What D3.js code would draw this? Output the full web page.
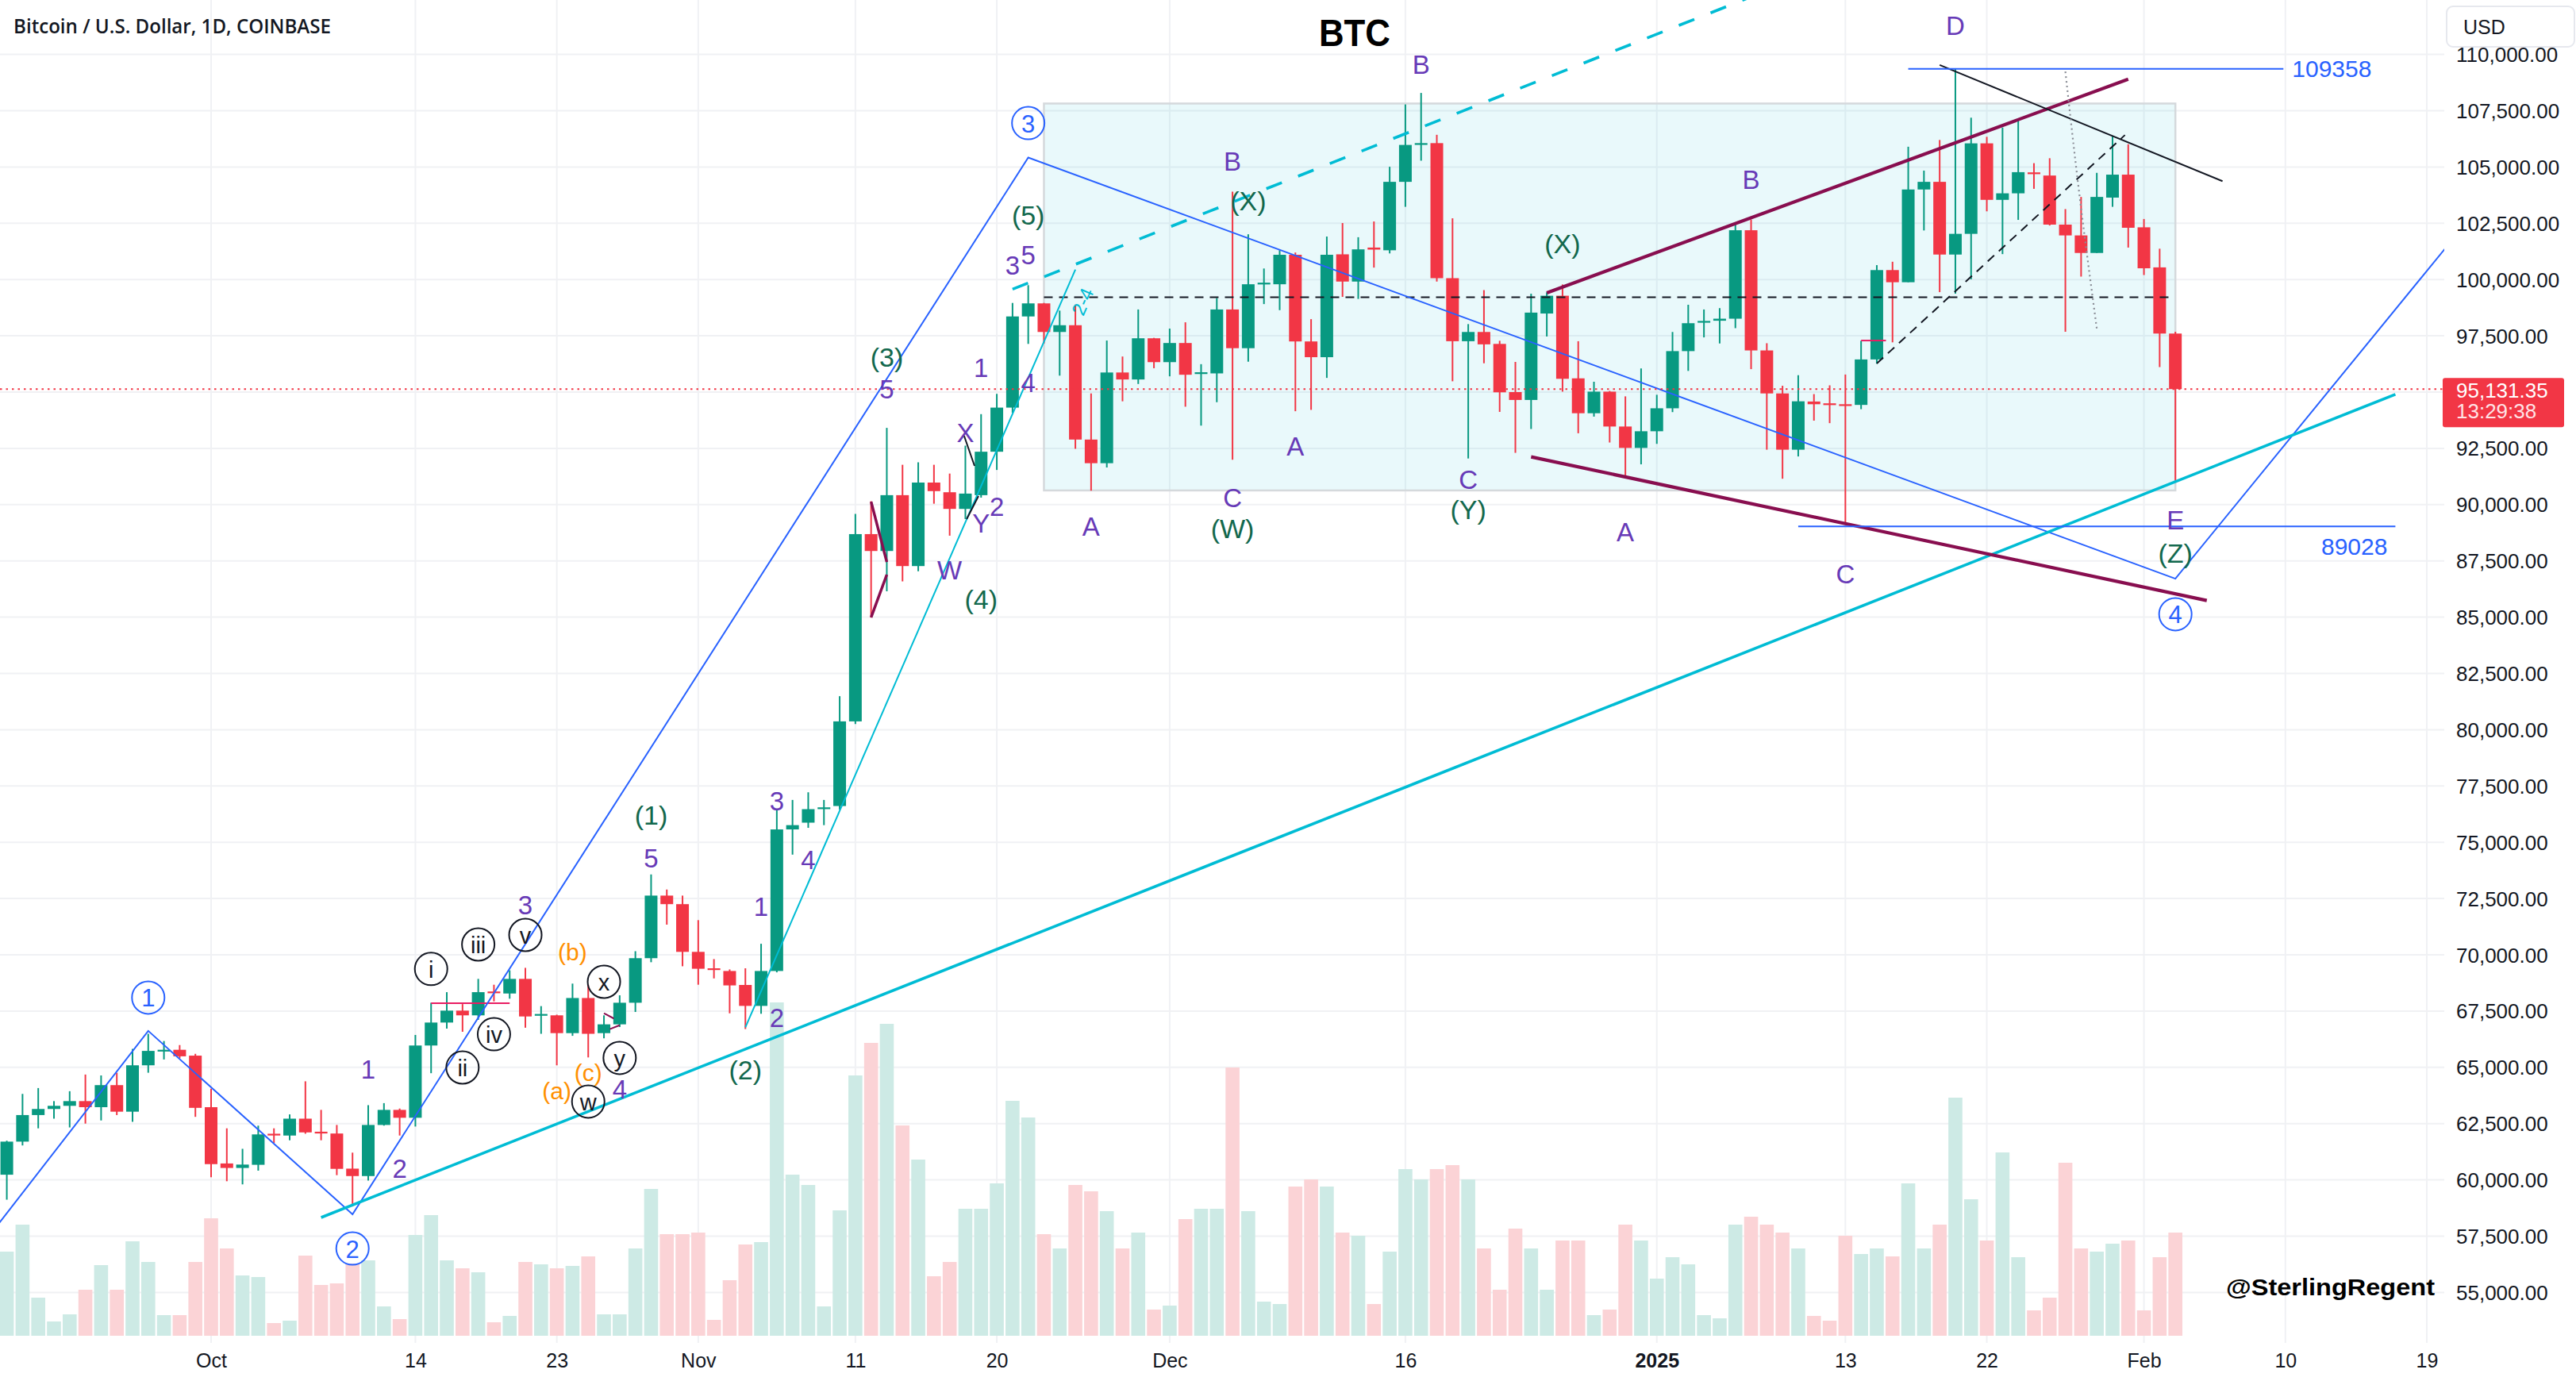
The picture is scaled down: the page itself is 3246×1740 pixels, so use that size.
<!DOCTYPE html>
<html><head><meta charset="utf-8">
<script src="https://cdn.jsdelivr.net/npm/d3@7"></script>
<style>html,body{margin:0;padding:0;background:#fff;}svg{display:block;}</style>
</head><body>
<svg id="c" width="3246" height="1740"></svg>
<script>
// ---------- DATA ----------
const firstDay = "2024-09-18"; // consecutive daily candles from this date
const opens  = [60230,61700,62880,63150,63290,63500,63230,64210,63030,65090,65730,65780,65520,
 63230,60730,60530,60670,62050,61970,62720,62140,62060,60500,60170,62440,63110,62760,65970,66990,67520,67310,68370,68280,68930,67340,67310,66520,68080,66520,66910,67870,69850,72630,72250,
 70130,69400,69280,68660,67730,69280,75570,75870,76500,76610,80370,88690,87940,90420,87270,90980,90550,89810,90420,92350,94310,98360,98940,97670,97970,92890,91840,95870,95560,97390,
 96330,97180,95850,95830,98670,96950,99800,99790,101100,97250,96550,101120,99910,101420,101300,104340,106050,106060,100060,97260,97670,97140,95000,94650,98490,99280,95610,94060,95020,93470,92520,
 93260,94280,96820,98150,98170,98260,102190,96850,94940,92440,94580,94500,94460,94430,96450,100420,99880,104000,104340,101110,102030,106050,103540,103830,104760,104620,102440,101960,101180,103640,104660,
 102320,100540,97600];
const highs  = [61740,63820,64080,63500,63940,64680,64640,64760,65820,66490,66170,65990,65600,
 64050,62290,61380,62410,62290,62910,64380,63110,62440,61210,63320,63410,63170,66440,67870,68340,67810,68930,68670,69310,69420,67720,67340,68720,68670,67310,68200,70160,73570,72900,72630,
 71540,69810,69350,69400,70490,76430,76880,77220,76880,81490,89590,90150,93410,91770,91880,91770,91380,92620,94020,94920,98960,99750,98960,98620,98890,94940,97290,96580,98670,97410,
 97820,98100,96240,99180,103900,102010,100490,101300,101200,98240,101910,102510,101880,102580,105010,107780,108290,106430,102720,98020,99530,97280,96340,99370,99430,99780,97260,95460,95050,94810,96050,
 94880,97670,98880,98670,98730,102450,102660,97170,95280,95750,94910,95300,95780,97280,100640,100790,105900,104840,106200,109358,107190,106340,106750,107120,105170,105390,103130,103670,104740,106390,106010,
 102690,101370,97680];
const lows   = [59120,61530,62290,62720,62330,62500,62640,62880,62580,64760,65350,65400,62800,
 60120,59940,59800,60410,61640,61760,62050,61760,60210,58820,59970,62410,61970,62370,64740,66720,66580,67110,67930,68050,66760,66490,65090,66400,65440,66290,66790,67460,69670,71340,69490,
 68670,68950,67400,66700,67380,69220,74450,75640,75760,76450,80250,84980,86150,86590,87040,90040,88620,89360,90310,91540,94080,97140,97160,95730,92480,90620,91650,94590,95360,96060,
 95700,94350,93510,94550,91990,96350,98910,98640,94150,94210,95630,99230,99140,100530,101160,103230,105280,99910,95480,92050,96280,94120,92300,93360,97470,95020,93170,93910,92760,91230,91790,
 92700,94110,95940,97430,97160,97840,96020,92440,91150,92140,93730,93620,89100,94240,96260,97210,99880,102180,99440,99370,100010,103030,101130,102650,104030,102400,97680,100130,101180,103230,101420,
 100200,96110,91070];
const closes = [61700,62880,63150,63290,63500,63230,64210,63030,65090,65730,65780,65490,63200,
 60700,60530,60680,62020,62020,62720,62110,62080,60490,60170,62440,63110,62760,65970,66990,67520,67310,68340,68340,68930,67260,67370,66520,68080,66490,66910,67870,69850,72630,72250,70130,
 69380,69360,68640,67730,69280,75570,75760,76470,76550,80370,88690,87940,90420,87270,90980,90600,89810,90490,92350,94310,98360,98940,97670,97970,92890,91840,95870,95560,97390,96330,
 97180,95770,95880,98670,96950,99790,99860,101100,97250,96550,101100,99910,101340,101330,104340,105980,106060,100060,97260,97670,97120,94990,94650,98530,99280,95590,94060,95020,93470,92520,93260,
 94280,96820,98060,98160,98260,102190,96850,94940,92440,94590,94460,94440,94430,96450,100420,99880,104000,104340,101110,102030,106050,103540,103830,104770,104700,102440,101960,101180,103670,104660,102300,
 100500,97600,95131.35];
const volumes = [10.6,14.0,4.8,1.8,2.7,5.8,8.9,5.8,11.9,9.3,2.6,2.6,9.3,
 14.8,11.0,7.6,7.4,1.6,1.9,10.1,6.4,6.6,9.1,9.5,3.7,2.1,12.7,15.2,9.5,8.5,8.0,1.7,2.5,9.3,9.0,8.5,8.8,10.0,2.7,2.7,11.0,18.5,12.8,12.8,
 13.0,2.0,7.0,11.5,11.8,42.0,20.3,19.0,3.7,15.8,32.8,36.9,39.3,26.5,22.2,7.5,9.3,16.0,16.0,19.2,29.6,27.5,12.8,11.0,19.0,18.2,15.7,11.0,13.0,3.3,
 3.8,14.7,16.0,16.0,33.8,15.7,4.3,4.0,18.8,19.7,18.8,13.0,12.6,4.0,10.6,21.0,19.7,21.0,21.5,19.7,11.0,5.8,13.5,11.0,5.8,12.0,12.0,2.6,3.3,14.0,12.0,
 7.2,9.9,9.0,2.6,2.2,14.0,15.0,14.0,13.0,11.0,2.5,1.9,12.6,10.3,11.0,10.0,19.2,11.0,14.0,30.0,17.2,12.0,23.1,9.9,3.2,4.8,21.8,11.0,10.6,11.6,12.0,
 3.2,9.9,13.0];

const timeTickDates  = ["2024-10-01","2024-10-14","2024-10-23","2024-11-01","2024-11-11","2024-11-20","2024-12-01","2024-12-16","2025-01-01","2025-01-13","2025-01-22","2025-02-01","2025-02-10","2025-02-19"];
const timeTickLabels = ["Oct","14","23","Nov","11","20","Dec","16","2025","13","22","Feb","10","19"];
const priceTicks = [55000,57500,60000,62500,65000,67500,70000,72500,75000,77500,80000,82500,85000,87500,90000,92500,95000,97500,100000,102500,105000,107500,110000];
const lastPrice = 95131.35;
const countdown = "13:29:38";

// wave labels: [text, date, price, kind]  p=purple g=green o=orange
const waveLabels = [
 ["1","2024-10-11",64900,"p"],["2","2024-10-13",60480,"p"],["3","2024-10-21",72220,"p"],["4","2024-10-27",64040,"p"],
 ["5","2024-10-29",74270,"p"],["1","2024-11-05",72150,"p"],["2","2024-11-06",67210,"p"],["3","2024-11-06",76840,"p"],
 ["4","2024-11-08",74230,"p"],["5","2024-11-13",95140,"p"],["X","2024-11-18",93180,"p"],["W","2024-11-17",87100,"p"],
 ["Y","2024-11-19",89150,"p"],["2","2024-11-20",89920,"p"],["1","2024-11-19",96090,"p"],["4","2024-11-22",95420,"p"],
 ["3","2024-11-21",100610,"p"],["5","2024-11-22",101070,"p"],["A","2024-11-26",89020,"p"],["B","2024-12-05",105230,"p"],
 ["C","2024-12-05",90310,"p"],["A","2024-12-09",92600,"p"],["B","2024-12-17",109530,"p"],["C","2024-12-20",91090,"p"],
 ["A","2024-12-30",88790,"p"],["B","2025-01-07",104420,"p"],["C","2025-01-13",86890,"p"],["D","2025-01-20",111260,"p"],
 ["E","2025-02-03",89290,"p"],
 ["(1)","2024-10-29",76210,"g"],["(2)","2024-11-04",64890,"g"],["(3)","2024-11-13",96550,"g"],["(4)","2024-11-19",85800,"g"],
 ["(5)","2024-11-22",102860,"g"],["(X)","2024-12-06",103500,"g"],["(W)","2024-12-05",88950,"g"],["(X)","2024-12-26",101590,"g"],
 ["(Y)","2024-12-20",89780,"g"],["(Z)","2025-02-03",87840,"g"],
 ["(a)","2024-10-23",63970,"o"],["(b)","2024-10-24",70110,"o"],["(c)","2024-10-25",64750,"o"]
];
// circled labels: [text, date, price, kind] b=blue k=black
const circledLabels = [
 ["1","2024-09-27",68100,"b"],["2","2024-10-10",56950,"b"],["3","2024-11-22",106950,"b"],["4","2025-02-03",85130,"b"],
 ["i","2024-10-15",69370,"k"],["ii","2024-10-17",64990,"k"],["iii","2024-10-18",70460,"k"],["iv","2024-10-19",66470,"k"],
 ["v","2024-10-21",70880,"k"],["w","2024-10-25",63480,"k"],["x","2024-10-26",68800,"k"],["y","2024-10-27",65420,"k"]
];
// drawings (date, price)
const blueWave     = [["2024-09-17",57620],["2024-09-27",66620],["2024-10-10",58470],["2024-11-22",105420],["2025-02-03",86710],["2025-02-21",102090]];
const cyanTrend    = [["2024-10-08",58330],["2025-02-17",94900]];
const cyanDashed   = [["2024-11-21",99570],["2025-01-07",112560]];
const cyanThin     = [["2024-11-04",66780],["2024-11-25",100440]];
const maroonUpper  = [["2024-12-25",99410],["2025-01-31",108900]];
const maroonLower  = [["2024-12-24",92120],["2025-02-05",85740]];
const maroonSmallA = [["2024-11-12",90130],["2024-11-13",87450]];
const maroonSmallB = [["2024-11-12",84990],["2024-11-13",86890]];
const maroonTinyA  = [["2024-10-26",67400],["2024-10-26T15:00",67170]];
const maroonTinyB  = [["2024-10-26T09:00",66700],["2024-10-27",66870]];
const blackLine    = [["2025-01-19",109530],["2025-02-06",104370]];
const blackDashDiag= [["2025-01-15",96270],["2025-01-30T19:00",106420]];
const blackDashFlat= [["2024-11-23",99210],["2025-02-02T15:00",99210]];
const blackSmallX  = [["2024-11-17T22:00",93060],["2024-11-18T14:00",91720]];
const blackSmallY  = [["2024-11-18T02:00",89360],["2024-11-18T20:00",90380]];
const grayDotted   = [["2025-01-27",109240],["2025-01-27T22:00",103640],["2025-01-29",97820]];
const pinkSeg1     = [["2024-10-15",67850],["2024-10-20",67850]];
const pinkSeg2     = [["2025-01-14",97290],["2025-01-15T14:00",97290]];
const levelValues  = [109358, 89028];
const levelFrom    = ["2025-01-17","2025-01-10"];
const levelTo      = ["2025-02-09T21:00","2025-02-17"];
const boxFrom = "2024-11-23", boxTo = "2025-02-03", boxTop = 107820, boxBottom = 90630;
const label24 = ["2-4","2024-11-25T11:00",99020];

// ---------- SETUP ----------
const pd = s => new Date(s.length > 10 ? s + ":00Z" : s + "T00:00:00Z");
const day0 = pd(firstDay);
const dates = closes.map((_, i) => new Date(day0.getTime() + i * 86400000));
const candles = dates.map((d, i) => ({d, o: opens[i], h: highs[i], l: lows[i], c: closes[i], v: volumes[i]}));

const W = 3246, H = 1740, paneR = 3080, paneB = 1692;
const x = d3.scaleUtc().domain([pd("2024-10-01"), pd("2025-02-19")]).range([266, 3058]);
const y = d3.scaleLinear().domain([55000, 110000]).range([1628.4, 68.6]);
const yv = d3.scaleLinear().domain([0, 45]).range([1683, 1233]);

const UP = "#089981", DN = "#f23645";
const PURPLE = "#673ab7", GREEN = "#12684d", ORANGE = "#ff8f00", BLUE = "#2962ff", CYAN = "#00bcd4", MAROON = "#880e4f";
const FONT = "'Liberation Sans', Arial, sans-serif";

const svg = d3.select("#c");
svg.append("rect").attr("width", W).attr("height", H).attr("fill", "#fff");
svg.append("defs").append("clipPath").attr("id", "pane").append("rect").attr("x", 0).attr("y", 0).attr("width", paneR).attr("height", paneB);
const pane = svg.append("g").attr("clip-path", "url(#pane)");

// grid
pane.append("g").selectAll("line").data(priceTicks.concat([112500])).join("line")
  .attr("x1", 0).attr("x2", paneR).attr("y1", d => y(d)).attr("y2", d => y(d))
  .attr("stroke", "#f0f1f4").attr("stroke-width", 2);
pane.append("g").selectAll("line").data(timeTickDates).join("line")
  .attr("x1", d => x(pd(d))).attr("x2", d => x(pd(d))).attr("y1", 0).attr("y2", paneB)
  .attr("stroke", "#f0f1f4").attr("stroke-width", 2);

// box
pane.append("rect")
  .attr("x", x(pd(boxFrom))).attr("y", y(boxTop))
  .attr("width", x(pd(boxTo)) - x(pd(boxFrom))).attr("height", y(boxBottom) - y(boxTop))
  .attr("fill", "rgba(0,188,212,0.085)").attr("stroke", "#d5d9dc").attr("stroke-width", 2.5);

// volume
pane.append("g").selectAll("rect").data(candles).join("rect")
  .attr("x", d => x(d.d) - 8.8).attr("width", 17.6)
  .attr("y", d => yv(d.v)).attr("height", d => yv(0) - yv(d.v))
  .attr("fill", d => d.c >= d.o ? "#cdeae5" : "#fbd3d6");

// candles
const cg = pane.append("g");
cg.selectAll("line").data(candles).join("line")
  .attr("x1", d => x(d.d)).attr("x2", d => x(d.d))
  .attr("y1", d => y(d.h)).attr("y2", d => y(d.l))
  .attr("stroke", d => d.c >= d.o ? UP : DN).attr("stroke-width", 2);
cg.selectAll("rect").data(candles).join("rect")
  .attr("x", d => x(d.d) - 8).attr("width", 16)
  .attr("y", d => y(Math.max(d.o, d.c)))
  .attr("height", d => Math.max(2.2, Math.abs(y(d.o) - y(d.c))))
  .attr("fill", d => d.c >= d.o ? UP : DN);

// drawings
const line = d3.line().x(p => x(pd(p[0]))).y(p => y(p[1]));
function drawLine(pts, color, w, dash, curve) {
  const l = curve ? d3.line().x(p => x(pd(p[0]))).y(p => y(p[1])).curve(d3.curveNatural) : line;
  pane.append("path").attr("d", l(pts)).attr("fill", "none").attr("stroke", color)
    .attr("stroke-width", w).attr("stroke-dasharray", dash || null).attr("stroke-linecap", "butt");
}
drawLine(pinkSeg1, "#e91e63", 2);
drawLine(pinkSeg2, "#e91e63", 2);
drawLine(blackDashFlat, "#131722", 2, "11,8");
drawLine(blueWave, BLUE, 2);
drawLine(cyanTrend, CYAN, 3.6);
drawLine(cyanThin, CYAN, 2);
drawLine(cyanDashed, CYAN, 3.6, "21,22");
drawLine(maroonUpper, MAROON, 4.2);
drawLine(maroonLower, MAROON, 4.2);
drawLine(maroonSmallA, MAROON, 3.5);
drawLine(maroonSmallB, MAROON, 3.5);
drawLine(maroonTinyA, MAROON, 2);
drawLine(maroonTinyB, MAROON, 2);
drawLine(blackLine, "#131722", 2);
drawLine(blackDashDiag, "#131722", 2, "11,8");
drawLine(blackSmallX, "#131722", 2);
drawLine(blackSmallY, "#131722", 2);
drawLine(grayDotted, "#8a8d96", 2.2, "2,4", true);

// horizontal levels
levelValues.forEach((v, i) => {
  drawLine([[levelFrom[i], v], [levelTo[i], v]], BLUE, 2);
});
pane.append("text").attr("x", x(pd(levelTo[0])) + 11).attr("y", y(levelValues[0]))
  .attr("dominant-baseline", "central").attr("font-family", FONT).attr("font-size", 30)
  .attr("fill", BLUE).text(String(levelValues[0]));
pane.append("text").attr("x", x(pd(levelTo[1])) - 10).attr("y", y(levelValues[1]) + 25)
  .attr("dominant-baseline", "central").attr("text-anchor", "end").attr("font-family", FONT).attr("font-size", 30)
  .attr("fill", BLUE).text(String(levelValues[1]));

// "2-4" label along thin cyan line
{
  const lx = x(pd(label24[1])), ly = y(label24[2]);
  pane.append("text").attr("transform", `translate(${lx},${ly}) rotate(-66.5)`)
    .attr("text-anchor", "middle").attr("dominant-baseline", "central")
    .attr("font-family", FONT).attr("font-size", 24).attr("fill", CYAN).text(label24[0]);
}

// current price dotted line
pane.append("line").attr("x1", 0).attr("x2", paneR).attr("y1", y(lastPrice)).attr("y2", y(lastPrice))
  .attr("stroke", DN).attr("stroke-width", 2).attr("stroke-dasharray", "2.5,5");

// wave labels
const colorOf = {p: PURPLE, g: GREEN, o: ORANGE};
const sizeOf = {p: 33, g: 34, o: 30};
pane.append("g").selectAll("text").data(waveLabels).join("text")
  .attr("x", d => x(pd(d[1]))).attr("y", d => y(d[2]))
  .attr("text-anchor", "middle").attr("dominant-baseline", "central")
  .attr("font-family", FONT).attr("font-size", d => sizeOf[d[3]])
  .attr("fill", d => colorOf[d[3]]).text(d => d[0]);

// circled labels
const circ = pane.append("g").selectAll("g").data(circledLabels).join("g")
  .attr("transform", d => `translate(${x(pd(d[1]))},${y(d[2])})`);
circ.append("circle").attr("r", 20.5).attr("fill", "none")
  .attr("stroke", d => d[3] === "b" ? BLUE : "#131722").attr("stroke-width", 2);
circ.append("text").attr("text-anchor", "middle").attr("dominant-baseline", "central").attr("y", 1)
  .attr("font-family", FONT).attr("font-size", d => d[3] === "b" ? 31 : 29)
  .attr("fill", d => d[3] === "b" ? BLUE : "#131722").text(d => d[0]);

// ---------- AXES ----------
const ax = svg.append("g").attr("transform", `translate(0,1714)`)
  .call(d3.axisBottom(x).tickValues(timeTickDates.map(pd)).tickFormat((d, i) => timeTickLabels[i]).tickSize(0).tickPadding(0));
ax.select(".domain").remove();
ax.selectAll("text").attr("font-family", FONT).attr("font-size", 25).attr("fill", "#131722")
  .attr("dy", null).attr("dominant-baseline", "central")
  .attr("font-weight", (d, i) => timeTickLabels[i] === "2025" ? "bold" : null);

const ay = svg.append("g").attr("transform", `translate(3095,0)`)
  .call(d3.axisRight(y).tickValues(priceTicks).tickFormat(d3.format(",.2f")).tickSize(0).tickPadding(0));
ay.select(".domain").remove();
ay.selectAll("text").attr("font-family", FONT).attr("font-size", 26).attr("fill", "#131722")
  .attr("dy", null).attr("dominant-baseline", "central");

// current price label
const lp = svg.append("g");
lp.append("rect").attr("x", 3078).attr("y", y(lastPrice) - 14).attr("width", 153).attr("height", 62).attr("rx", 3).attr("fill", DN);
lp.append("text").attr("x", 3095).attr("y", y(lastPrice) + 2).attr("dominant-baseline", "central")
  .attr("font-family", FONT).attr("font-size", 26).attr("fill", "#fff").text(d3.format(",.2f")(lastPrice));
lp.append("text").attr("x", 3095).attr("y", y(lastPrice) + 28).attr("dominant-baseline", "central")
  .attr("font-family", FONT).attr("font-size", 26).attr("fill", "#ffe3e5").text(countdown);

// USD box
svg.append("rect").attr("x", 3083).attr("y", 8).attr("width", 161).attr("height", 51).attr("rx", 8)
  .attr("fill", "#fff").attr("stroke", "#e6e8ee").attr("stroke-width", 2);
svg.append("text").attr("x", 3104).attr("y", 34).attr("dominant-baseline", "central")
  .attr("font-family", FONT).attr("font-size", 25).attr("fill", "#131722").text("USD");

// titles
svg.append("text").attr("x", 17).attr("y", 42).attr("font-family", "'Open Sans', sans-serif").attr("font-weight", 600)
  .attr("font-size", 26).attr("fill", "#131722").attr("textLength", 400).attr("lengthAdjust", "spacingAndGlyphs")
  .text("Bitcoin / U.S. Dollar, 1D, COINBASE");
svg.append("text").attr("x", 1707).attr("y", 58).attr("text-anchor", "middle").attr("font-family", FONT)
  .attr("font-weight", "bold").attr("font-size", 48).attr("fill", "#000").attr("textLength", 90).attr("lengthAdjust", "spacingAndGlyphs")
  .text("BTC");
svg.append("text").attr("x", 2805).attr("y", 1632).attr("font-family", FONT).attr("font-weight", "bold")
  .attr("font-size", 30).attr("fill", "#000").attr("textLength", 263).attr("lengthAdjust", "spacingAndGlyphs")
  .text("@SterlingRegent");
</script>
</body></html>
